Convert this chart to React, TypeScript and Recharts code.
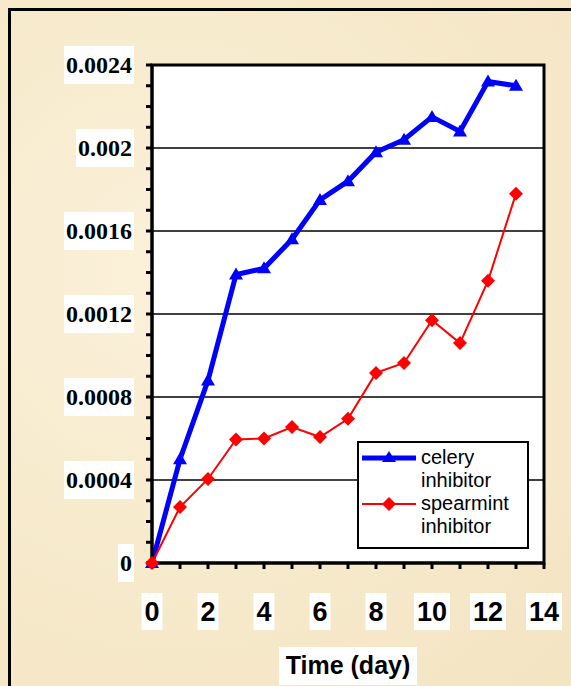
import React from "react";
import {
  LineChart,
  Line,
  XAxis,
  YAxis,
  CartesianGrid,
  ReferenceLine,
  ReferenceArea,
  Legend,
} from "recharts";

const days = [0, 1, 2, 3, 4, 5, 6, 7, 8, 9, 10, 11, 12, 13];
const celery = [
  0, 0.0005, 0.00088, 0.00139, 0.00142, 0.00156, 0.00175, 0.00184, 0.00198,
  0.00204, 0.00215, 0.00208, 0.00232, 0.0023,
];
const spearmint = [
  0, 0.00027, 0.000405, 0.000595, 0.0006, 0.000655, 0.000607, 0.000695,
  0.000916, 0.000964, 0.00117, 0.00106, 0.00136, 0.00178,
];

const xTicks = [0, 1, 2, 3, 4, 5, 6, 7, 8, 9, 10, 11, 12, 13, 14];
const xLabels = [0, 2, 4, 6, 8, 10, 12, 14];
const yTicks = [
  0, 0.0001, 0.0002, 0.0003, 0.0004, 0.0005, 0.0006, 0.0007, 0.0008, 0.0009,
  0.001, 0.0011, 0.0012, 0.0013, 0.0014, 0.0015, 0.0016, 0.0017, 0.0018,
  0.0019, 0.002, 0.0021, 0.0022, 0.0023, 0.0024,
];
const yLabels = ["0", "0.0004", "0.0008", "0.0012", "0.0016", "0.002", "0.0024"];
const yGrid = [0.0004, 0.0008, 0.0012, 0.0016, 0.002];

const data = days.map((d, i) => ({ day: d, celery: celery[i], spearmint: spearmint[i] }));

const yLabelFor = (v: number) => {
  const k = Math.round(v * 10000);
  return k % 4 === 0 ? yLabels[k / 4] : null;
};

const YTick = (props: any) => {
  const { y, payload } = props;
  const label = yLabelFor(payload.value);
  if (!label) return null;
  const w = label.replace(".", "").length * 12 + (label.includes(".") ? 6 : 0) + 4;
  const right = 134;
  return (
    <g>
      <rect x={right - w} y={y - 19} width={w} height={38} fill="#fff" />
      <text
        x={right - 2}
        y={y}
        dy="0.35em"
        textAnchor="end"
        fontFamily="'Liberation Serif', 'Times New Roman', serif"
        fontWeight="bold"
        fontSize={24}
        fill="#000"
      >
        {label}
      </text>
    </g>
  );
};

const XTick = (props: any) => {
  const { x, payload } = props;
  if (!xLabels.includes(payload.value)) return null;
  const label = String(payload.value);
  const w = label.length * 15 + 6;
  return (
    <g>
      <rect x={x - w / 2} y={593} width={w} height={37} fill="#fff" />
      <text
        x={x}
        y={611}
        dy="0.36em"
        textAnchor="middle"
        fontFamily="'Liberation Sans', Arial, sans-serif"
        fontWeight="bold"
        fontSize={27}
        fill="#000"
      >
        {label}
      </text>
    </g>
  );
};

const Triangle = (props: any) => {
  const { cx, cy, index } = props;
  if (cx == null || cy == null) return null;
  return (
    <path
      key={`t-${index}`}
      d={`M${cx},${cy - 7} L${cx + 7},${cy + 5} L${cx - 7},${cy + 5} Z`}
      fill="#0000FF"
      stroke="none"
    />
  );
};

const Diamond = (props: any) => {
  const { cx, cy, index } = props;
  if (cx == null || cy == null) return null;
  return (
    <path
      key={`d-${index}`}
      d={`M${cx},${cy - 7} L${cx + 7},${cy} L${cx},${cy + 7} L${cx - 7},${cy} Z`}
      fill="#FF0000"
      stroke="none"
    />
  );
};

const LegendBox = () => {
  const row = (color: string, width: number, marker: React.ReactNode, text: string[]) => (
    <div style={{ display: "flex", alignItems: "flex-start" }}>
      <svg width={62} height={24} style={{ flex: "none" }}>
        <line x1={3} y1={12} x2={57} y2={12} stroke={color} strokeWidth={width} />
        {marker}
      </svg>
      <div style={{ lineHeight: "23px", textAlign: "left" }}>
        {text.map((t) => (
          <div key={t}>{t}</div>
        ))}
      </div>
    </div>
  );
  return (
    <div
      style={{
        width: 168,
        height: 101,
        border: "2px solid #000",
        background: "#fff",
        fontFamily: "'Liberation Sans', Arial, sans-serif",
        fontSize: 20,
        color: "#000",
        paddingTop: 3,
        boxSizing: "content-box",
      }}
    >
      {row(
        "#0000FF",
        5,
        <path d="M30,5 L37,16 L23,16 Z" fill="#0000FF" />,
        ["celery", "inhibitor"]
      )}
      {row(
        "#FF0000",
        2,
        <path d="M30,5 L37,12 L30,19 L23,12 Z" fill="#FF0000" />,
        ["spearmint", "inhibitor"]
      )}
    </div>
  );
};

export default function App() {
  return (
    <div
      style={{
        position: "absolute",
        left: 0,
        top: 0,
        width: 571,
        height: 686,
        overflow: "hidden",
        background: "radial-gradient(circle at 30% 40%, #FBF1DA 0%, #F6E9CA 60%, #F3E4C2 100%)",
      }}
    >
      <div
        style={{
          position: "absolute",
          left: 8,
          top: 8,
          width: 600,
          height: 700,
          borderLeft: "3px solid #000",
          borderTop: "3px solid #000",
        }}
      />
      <div style={{ position: "absolute", left: 0, top: 0 }}>
        <LineChart
          width={571}
          height={686}
          data={data}
          margin={{ top: 65, right: 27, left: 0, bottom: 0 }}
        >
          <CartesianGrid horizontal={false} vertical={false} fill="#fff" />
          {yGrid.map((v) => (
            <ReferenceLine key={v} y={v} stroke="#000" strokeWidth={1.5} />
          ))}
          <ReferenceArea
            x1={0}
            x2={14}
            y1={0}
            y2={0.0024}
            fill="none"
            fillOpacity={0}
            stroke="#000"
            strokeWidth={3}
          />
          <XAxis
            dataKey="day"
            type="number"
            domain={[0, 14]}
            ticks={xTicks}
            interval={0}
            height={123}
            axisLine={{ stroke: "#000", strokeWidth: 3 }}
            tickLine={{ stroke: "#000", strokeWidth: 3 }}
            tickSize={6}
            tick={<XTick />}
            label={{
              value: "Time (day)",
              position: "insideBottom",
              offset: 0,
              content: (p: any) => {
                const vb = p.viewBox || {};
                const cx = vb.x + vb.width / 2;
                return (
                  <g>
                    <rect x={cx - 69} y={647} width={138} height={38} fill="#fff" />
                    <text
                      x={cx}
                      y={665}
                      dy="0.36em"
                      textAnchor="middle"
                      fontFamily="'Liberation Sans', Arial, sans-serif"
                      fontWeight="bold"
                      fontSize={25}
                      fill="#000"
                    >
                      Time (day)
                    </text>
                  </g>
                );
              },
            }}
          />
          <YAxis
            type="number"
            domain={[0, 0.0024]}
            ticks={yTicks}
            interval={0}
            width={152}
            axisLine={{ stroke: "#000", strokeWidth: 3 }}
            tickLine={{ stroke: "#000", strokeWidth: 3 }}
            tickSize={6}
            tick={<YTick />}
          />
          <Line
            dataKey="celery"
            name="celery inhibitor"
            stroke="#0000FF"
            strokeWidth={5}
            dot={Triangle}
            activeDot={false}
            isAnimationActive={false}
          />
          <Line
            dataKey="spearmint"
            name="spearmint inhibitor"
            stroke="#FF0000"
            strokeWidth={2}
            dot={Diamond}
            activeDot={false}
            isAnimationActive={false}
          />
          <Legend
            layout="horizontal"
            verticalAlign="middle"
            align="center"
            content={<LegendBox />}
            wrapperStyle={{ position: "absolute", left: 357, top: 441, width: 172, bottom: "auto" }}
          />
        </LineChart>
      </div>
    </div>
  );
}
